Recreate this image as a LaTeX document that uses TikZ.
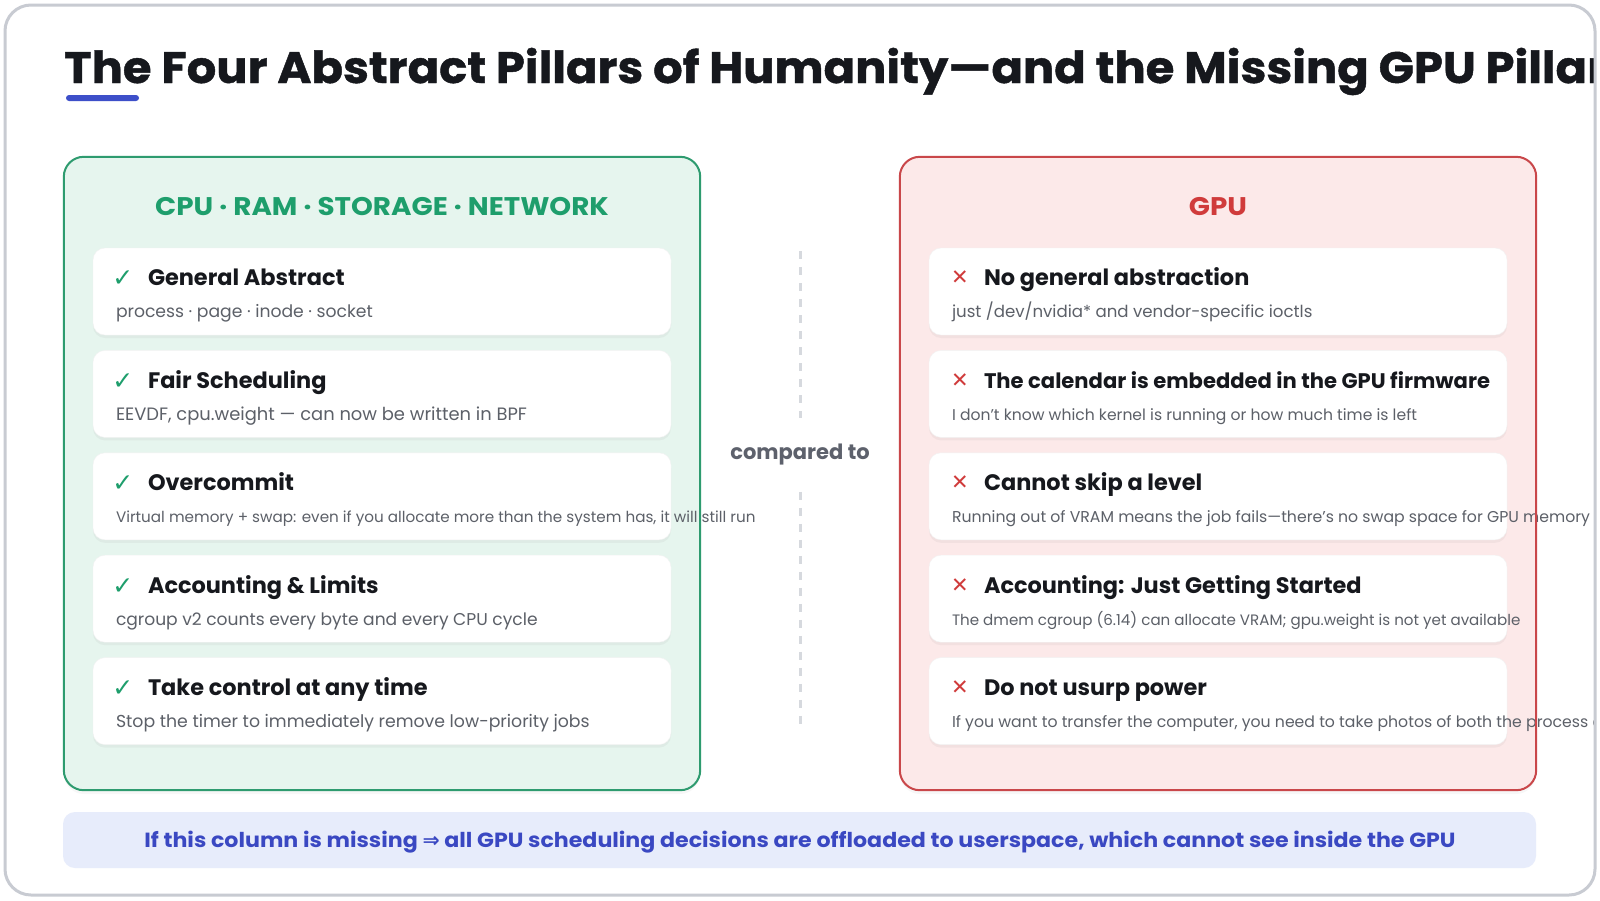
\documentclass[tikz,border=0pt]{standalone}
\usepackage{fontspec}
\setmainfont{Poppins}
\newfontfamily\symfont{DejaVu Sans}
\usetikzlibrary{
  calc,
  positioning,
  shadows,
}
\definecolor{titleblack}{HTML}{16181D}
\definecolor{titleblue}{HTML}{3D4FC9}
\definecolor{framegray}{HTML}{C8CBD2}
\definecolor{gborder}{HTML}{2E9B6F}
\definecolor{gfill}{HTML}{E6F5EE}
\definecolor{ghead}{HTML}{1E9E6C}
\definecolor{rborder}{HTML}{C9474A}
\definecolor{rfill}{HTML}{FCE9E9}
\definecolor{rhead}{HTML}{D03B3B}
\definecolor{subgray}{HTML}{5C6068}
\definecolor{cmpgray}{HTML}{5D616C}
\definecolor{divgray}{HTML}{D6D9DE}
\definecolor{notefill}{HTML}{E7ECFB}
\definecolor{notetext}{HTML}{3A48C2}
\tikzstyle{colbox} = [
  rectangle,
  rounded corners=20pt,
  minimum width=636pt,
  minimum height=633pt,
  inner sep=0pt,
  drop shadow={opacity=0.06, shadow xshift=0pt, shadow yshift=-4pt},
]
\tikzstyle{colhead} = [
  anchor=base,
  inner sep=0pt,
  font=\fontsize{25.5}{30}\selectfont\bfseries\addfontfeature{FakeStretch=1.09},
]
\tikzstyle{card} = [
  rectangle,
  rounded corners=12pt,
  fill=white,
  draw=black!5,
  minimum width=578pt,
  minimum height=87pt,
  inner sep=0pt,
  drop shadow={opacity=0.08, shadow xshift=0pt, shadow yshift=-3pt},
]
\tikzstyle{marksym} = [
  anchor=base,
  inner sep=0pt,
  font=\symfont\fontsize{25}{30}\selectfont,
]
\tikzstyle{cardtitle} = [
  anchor=base west,
  inner sep=0pt,
  text=titleblack,
  font=\fontsize{22.4}{26}\selectfont\bfseries,
]
\tikzstyle{cardsub} = [
  anchor=base west,
  inner sep=0pt,
  text=subgray,
]
\tikzstyle{divider} = [
  line width=3pt,
  divgray,
  dash pattern=on 8pt off 8pt,
]

\begin{document}
\begin{tikzpicture}[x=1pt, y=-1pt, node distance=15pt and 0pt]
  \useasboundingbox (0,0) rectangle (1600,900);
  \fill[white] (0,0) rectangle (1600,900);
  \begin{scope}
    \clip[rounded corners=24pt] (6,6) rectangle (1594,894);

    % title
    \node[anchor=base west, inner sep=0pt, text=titleblack, font=\fontsize{44}{50}\selectfont\bfseries\addfontfeature{FakeStretch=1.055, FakeBold=1}] (title) at (64,83) {The Four Abstract Pillars of Humanity---and the Missing GPU Pillar};
    \node[fill=titleblue, rounded corners=3pt, minimum width=73pt, minimum height=6pt, inner sep=0pt] (bar) at (102.5,98) {};

    % columns
    \node[colbox, fill=gfill] (gcol) at (382,473.5) {};
    \node[colbox, fill=rfill] (rcol) at (1218,473.5) {};
    \node[colhead, text=ghead] (ghead) at (382,215) {CPU · RAM · STORAGE · NETWORK};
    \node[colhead, text=rhead] (rhead) at (1218,215) {GPU};

    % left cards
    \node[card] (g1) at (382,291.5) {};
    \node[card, below=of g1] (g2) {};
    \node[card, below=of g2] (g3) {};
    \node[card, below=of g3] (g4) {};
    \node[card, below=of g4] (g5) {};

    \node[marksym, text=ghead] (g1m) at ($(g1.north west)+(30,39)$) {✓};
    \node[cardtitle] (g1t) at ($(g1.north west)+(55,38)$) {General Abstract};
    \node[cardsub, font=\fontsize{17.2}{20}\selectfont] (g1s) at ($(g1.north west)+(23,70)$) {process · page · inode · socket};

    \node[marksym, text=ghead] (g2m) at ($(g2.north west)+(30,39)$) {✓};
    \node[cardtitle] (g2t) at ($(g2.north west)+(55,38)$) {Fair Scheduling};
    \node[cardsub, font=\fontsize{17.9}{20}\selectfont] (g2s) at ($(g2.north west)+(23,70)$) {EEVDF, cpu.weight --- can now be written in BPF};

    \node[marksym, text=ghead] (g3m) at ($(g3.north west)+(30,39)$) {✓};
    \node[cardtitle] (g3t) at ($(g3.north west)+(55,38)$) {Overcommit};
    \node[cardsub, font=\fontsize{15.2}{18}\selectfont] (g3s) at ($(g3.north west)+(23,70)$) {Virtual memory + swap: even if you allocate more than the system has, it will still run};

    \node[marksym, text=ghead] (g4m) at ($(g4.north west)+(30,39)$) {✓};
    \node[cardtitle] (g4t) at ($(g4.north west)+(55,38)$) {Accounting \& Limits};
    \node[cardsub, font=\fontsize{17.1}{20}\selectfont] (g4s) at ($(g4.north west)+(23,70)$) {cgroup v2 counts every byte and every CPU cycle};

    \node[marksym, text=ghead] (g5m) at ($(g5.north west)+(30,39)$) {✓};
    \node[cardtitle] (g5t) at ($(g5.north west)+(55,38)$) {Take control at any time};
    \node[cardsub, font=\fontsize{17.3}{20}\selectfont] (g5s) at ($(g5.north west)+(23,70)$) {Stop the timer to immediately remove low-priority jobs};

    % right cards
    \node[card] (r1) at (1218,291.5) {};
    \node[card, below=of r1] (r2) {};
    \node[card, below=of r2] (r3) {};
    \node[card, below=of r3] (r4) {};
    \node[card, below=of r4] (r5) {};

    \node[marksym, text=rhead, font=\symfont\fontsize{21}{25}\selectfont] (r1m) at ($(r1.north west)+(31,37)$) {✕};
    \node[cardtitle] (r1t) at ($(r1.north west)+(55,38)$) {No general abstraction};
    \node[cardsub, font=\fontsize{16.6}{20}\selectfont] (r1s) at ($(r1.north west)+(23,70)$) {just /dev/nvidia* and vendor-specific ioctls};

    \node[marksym, text=rhead, font=\symfont\fontsize{21}{25}\selectfont] (r2m) at ($(r2.north west)+(31,37)$) {✕};
    \node[cardtitle, font=\fontsize{21.1}{25}\selectfont\bfseries] (r2t) at ($(r2.north west)+(55,38)$) {The calendar is embedded in the GPU firmware};
    \node[cardsub, font=\fontsize{15.6}{18}\selectfont] (r2s) at ($(r2.north west)+(23,70)$) {I don't know which kernel is running or how much time is left};

    \node[marksym, text=rhead, font=\symfont\fontsize{21}{25}\selectfont] (r3m) at ($(r3.north west)+(31,37)$) {✕};
    \node[cardtitle] (r3t) at ($(r3.north west)+(55,38)$) {Cannot skip a level};
    \node[cardsub, font=\fontsize{15.7}{19}\selectfont] (r3s) at ($(r3.north west)+(23,70)$) {Running out of VRAM means the job fails---there's no swap space for GPU memory};

    \node[marksym, text=rhead, font=\symfont\fontsize{21}{25}\selectfont] (r4m) at ($(r4.north west)+(31,37)$) {✕};
    \node[cardtitle] (r4t) at ($(r4.north west)+(55,38)$) {Accounting: Just Getting Started};
    \node[cardsub, font=\fontsize{15.1}{18}\selectfont] (r4s) at ($(r4.north west)+(23,70)$) {The dmem cgroup (6.14) can allocate VRAM; gpu.weight is not yet available};

    \node[marksym, text=rhead, font=\symfont\fontsize{21}{25}\selectfont] (r5m) at ($(r5.north west)+(31,37)$) {✕};
    \node[cardtitle] (r5t) at ($(r5.north west)+(55,38)$) {Do not usurp power};
    \node[cardsub, font=\fontsize{15.7}{19}\selectfont] (r5s) at ($(r5.north west)+(23,70)$) {If you want to transfer the computer, you need to take photos of both the process and};

    % column borders on top
    \draw[gborder, line width=2pt, rounded corners=20pt] (gcol.north west) rectangle (gcol.south east);
    \draw[rborder, line width=2pt, rounded corners=20pt] (rcol.north west) rectangle (rcol.south east);

    % middle
    \node[inner xsep=0pt, inner ysep=26pt, text=cmpgray, font=\fontsize{21}{25}\selectfont\bfseries] (cmp) at (800,455) {compared to};
    \coordinate (dtop) at (800,251);
    \coordinate (dbot) at (800,730);
    \draw[divider] (dtop) -- (cmp);
    \draw[divider] (cmp) -- (dbot);

    % note
    \node[fill=notefill, rounded corners=12pt, minimum width=1473pt, minimum height=56pt, inner sep=0pt] (note) at (799.5,840) {};
    \node[anchor=base, inner sep=0pt, text=notetext, font=\fontsize{20.5}{24}\selectfont\bfseries\addfontfeature{FakeStretch=1.08}] (notet) at (800,847) {If this column is missing {\symfont\bfseries ⇒} all GPU scheduling decisions are offloaded to userspace, which cannot see inside the GPU};
  \end{scope}
  \draw[framegray, line width=3pt, rounded corners=26pt] (5,5) rectangle (1595,895);
\end{tikzpicture}
\end{document}
